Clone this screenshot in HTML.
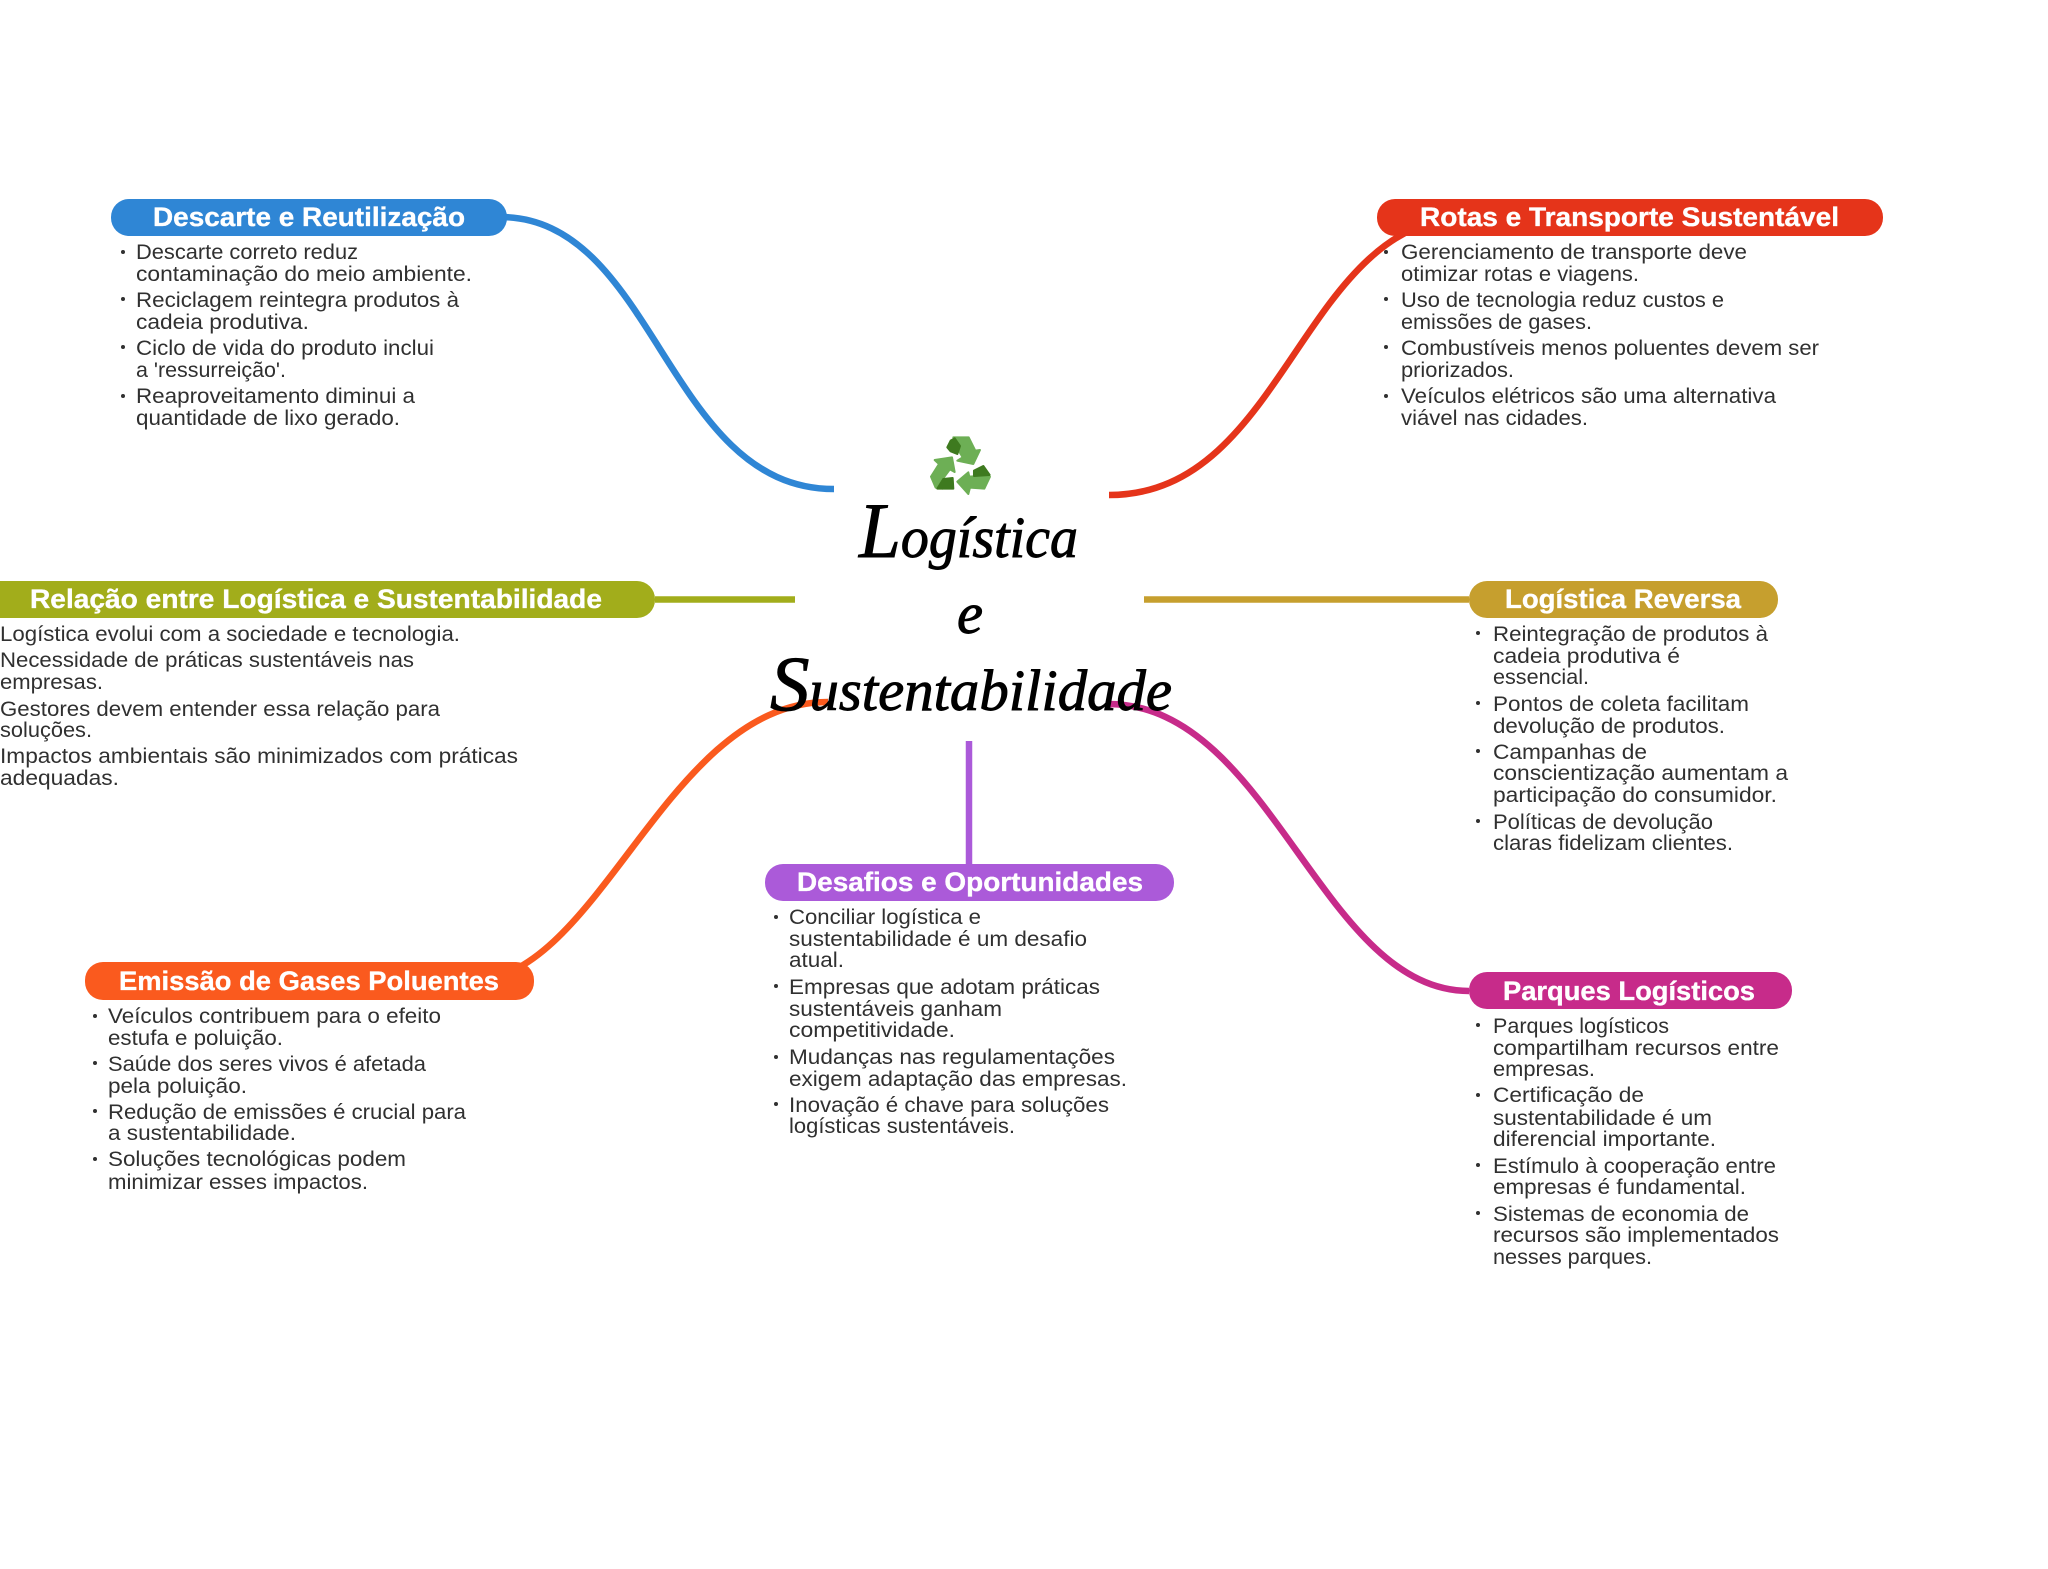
<!DOCTYPE html>
<html lang="pt">
<head>
<meta charset="utf-8">
<title>Logística e Sustentabilidade</title>
<style>
html,body{margin:0;padding:0;background:#fff;width:2048px;height:1569px;overflow:hidden}
svg{display:block}
.t{font:21px "Liberation Sans",sans-serif;fill:#303030}
.h{font:bold 27px "Liberation Sans",sans-serif;fill:#fff;stroke:#fff;stroke-width:.35}
.s{font:italic 58px "Liberation Serif",serif;fill:#000;stroke:#000;stroke-width:.9}
.s tspan{font-size:78px}
path.c{fill:none;stroke-width:6.5}
</style>
</head>
<body>
<svg xmlns="http://www.w3.org/2000/svg" width="2048" height="1569" viewBox="0 0 2048 1569">
<rect width="2048" height="1569" fill="#fff"/>

<!-- connectors -->
<path class="c" stroke="#2F86D5" d="M500 217C656 217 666 489 834 489"/>
<path class="c" stroke="#E5341A" d="M1109 495C1287 495 1301 217 1470 217"/>
<path class="c" stroke="#A2AD1B" d="M655 599.5H795"/>
<path class="c" stroke="#C69F2E" d="M1144 599.5H1469"/>
<path class="c" stroke="#FA5A1E" d="M828 702C666 702 600 981 470 981"/>
<path class="c" stroke="#C72B8A" d="M1108 704C1271 704 1321 991 1469 991"/>
<path class="c" stroke="#AB5AD9" d="M969 741V864"/>

<!-- pills -->
<rect x="111" y="199" width="396" height="37" rx="18" fill="#2F86D5"/>
<rect x="1377" y="199" width="506" height="37" rx="18" fill="#E5341A"/>
<rect x="-30" y="581" width="685" height="37" rx="18" fill="#A2AD1B"/>
<rect x="1469" y="581" width="309" height="37" rx="18" fill="#C69F2E"/>
<rect x="765" y="864" width="409" height="37" rx="18" fill="#AB5AD9"/>
<rect x="85" y="962" width="449" height="38" rx="18" fill="#FA5A1E"/>
<rect x="1469" y="972" width="323" height="37" rx="18" fill="#C72B8A"/>

<text class="h" x="153" y="226" textLength="312" lengthAdjust="spacingAndGlyphs">Descarte e Reutilização</text>
<text class="h" x="1420" y="226" textLength="419" lengthAdjust="spacingAndGlyphs">Rotas e Transporte Sustentável</text>
<text class="h" x="30" y="608" textLength="572" lengthAdjust="spacingAndGlyphs">Relação entre Logística e Sustentabilidade</text>
<text class="h" x="1505" y="608" textLength="236" lengthAdjust="spacingAndGlyphs">Logística Reversa</text>
<text class="h" x="797" y="891" textLength="346" lengthAdjust="spacingAndGlyphs">Desafios e Oportunidades</text>
<text class="h" x="119" y="990" textLength="380" lengthAdjust="spacingAndGlyphs">Emissão de Gases Poluentes</text>
<text class="h" x="1503" y="1000" textLength="252" lengthAdjust="spacingAndGlyphs">Parques Logísticos</text>

<!-- recycle icon -->
<g transform="translate(760 420) scale(.3333)" stroke-width="6" stroke-linejoin="round">
<polygon fill="#6DAF55" stroke="#6DAF55" points="580,52 626,52 646,92 660,90 640,132 592,122 608,112 588,78"/>
<polygon fill="#3E7A1F" stroke="#3E7A1F" points="572,62 584,55 600,78 592,102 572,94 562,82"/>
<polygon fill="#6DAF55" stroke="#6DAF55" points="524,120 576,112 584,156 570,148 552,172 548,206 527,203 513,170 537,132"/>
<polygon fill="#3E7A1F" stroke="#3E7A1F" points="550,177 578,174 580,206 532,206"/>
<polygon fill="#6DAF55" stroke="#6DAF55" points="592,185 625,157 628,170 680,167 690,170 673,206 630,203 625,222"/>
<polygon fill="#3E7A1F" stroke="#3E7A1F" points="642,152 670,138 689,165 642,168"/>
</g>

<!-- title -->
<text class="s" x="859" y="557" textLength="219" lengthAdjust="spacingAndGlyphs"><tspan>L</tspan>ogística</text>
<text class="s" x="957" y="633" textLength="26" lengthAdjust="spacingAndGlyphs">e</text>
<text class="s" x="770" y="710" textLength="402" lengthAdjust="spacingAndGlyphs"><tspan>S</tspan>ustentabilidade</text>

<!-- bullets -->
<g fill="#303030">
<circle cx="123" cy="252" r="2"/><circle cx="123" cy="299" r="2"/><circle cx="123" cy="347" r="2"/><circle cx="123" cy="396" r="2"/>
<circle cx="1386" cy="252" r="2"/><circle cx="1386" cy="299" r="2"/><circle cx="1386" cy="347" r="2"/><circle cx="1386" cy="396" r="2"/>
<circle cx="1478" cy="633" r="2"/><circle cx="1478" cy="703" r="2"/><circle cx="1478" cy="751" r="2"/><circle cx="1478" cy="821" r="2"/>
<circle cx="776" cy="917" r="2"/><circle cx="776" cy="986" r="2"/><circle cx="776" cy="1057" r="2"/><circle cx="776" cy="1104" r="2"/>
<circle cx="95" cy="1016" r="2"/><circle cx="95" cy="1063" r="2"/><circle cx="95" cy="1111" r="2"/><circle cx="95" cy="1159" r="2"/>
<circle cx="1478" cy="1025" r="2"/><circle cx="1478" cy="1095" r="2"/><circle cx="1478" cy="1165" r="2"/><circle cx="1478" cy="1213" r="2"/>
</g>

<!-- Descarte -->
<text class="t" x="136" y="259" textLength="222" lengthAdjust="spacingAndGlyphs">Descarte correto reduz</text>
<text class="t" x="136" y="281" textLength="336" lengthAdjust="spacingAndGlyphs">contaminação do meio ambiente.</text>
<text class="t" x="136" y="307" textLength="323" lengthAdjust="spacingAndGlyphs">Reciclagem reintegra produtos à</text>
<text class="t" x="136" y="329" textLength="173" lengthAdjust="spacingAndGlyphs">cadeia produtiva.</text>
<text class="t" x="136" y="355" textLength="298" lengthAdjust="spacingAndGlyphs">Ciclo de vida do produto inclui</text>
<text class="t" x="136" y="377" textLength="150" lengthAdjust="spacingAndGlyphs">a 'ressurreição'.</text>
<text class="t" x="136" y="403" textLength="279" lengthAdjust="spacingAndGlyphs">Reaproveitamento diminui a</text>
<text class="t" x="136" y="425" textLength="264" lengthAdjust="spacingAndGlyphs">quantidade de lixo gerado.</text>

<!-- Rotas -->
<text class="t" x="1401" y="259" textLength="346" lengthAdjust="spacingAndGlyphs">Gerenciamento de transporte deve</text>
<text class="t" x="1401" y="281" textLength="238" lengthAdjust="spacingAndGlyphs">otimizar rotas e viagens.</text>
<text class="t" x="1401" y="307" textLength="323" lengthAdjust="spacingAndGlyphs">Uso de tecnologia reduz custos e</text>
<text class="t" x="1401" y="329" textLength="191" lengthAdjust="spacingAndGlyphs">emissões de gases.</text>
<text class="t" x="1401" y="355" textLength="418" lengthAdjust="spacingAndGlyphs">Combustíveis menos poluentes devem ser</text>
<text class="t" x="1401" y="377" textLength="113" lengthAdjust="spacingAndGlyphs">priorizados.</text>
<text class="t" x="1401" y="403" textLength="375" lengthAdjust="spacingAndGlyphs">Veículos elétricos são uma alternativa</text>
<text class="t" x="1401" y="425" textLength="187" lengthAdjust="spacingAndGlyphs">viável nas cidades.</text>

<!-- Relação -->
<text class="t" x="0" y="641" textLength="460" lengthAdjust="spacingAndGlyphs">Logística evolui com a sociedade e tecnologia.</text>
<text class="t" x="0" y="667" textLength="414" lengthAdjust="spacingAndGlyphs">Necessidade de práticas sustentáveis nas</text>
<text class="t" x="0" y="689" textLength="103" lengthAdjust="spacingAndGlyphs">empresas.</text>
<text class="t" x="0" y="716" textLength="440" lengthAdjust="spacingAndGlyphs">Gestores devem entender essa relação para</text>
<text class="t" x="0" y="737" textLength="92" lengthAdjust="spacingAndGlyphs">soluções.</text>
<text class="t" x="0" y="763" textLength="518" lengthAdjust="spacingAndGlyphs">Impactos ambientais são minimizados com práticas</text>
<text class="t" x="0" y="785" textLength="119" lengthAdjust="spacingAndGlyphs">adequadas.</text>

<!-- Reversa -->
<text class="t" x="1493" y="641" textLength="275" lengthAdjust="spacingAndGlyphs">Reintegração de produtos à</text>
<text class="t" x="1493" y="663" textLength="187" lengthAdjust="spacingAndGlyphs">cadeia produtiva é</text>
<text class="t" x="1493" y="684" textLength="96" lengthAdjust="spacingAndGlyphs">essencial.</text>
<text class="t" x="1493" y="711" textLength="256" lengthAdjust="spacingAndGlyphs">Pontos de coleta facilitam</text>
<text class="t" x="1493" y="733" textLength="232" lengthAdjust="spacingAndGlyphs">devolução de produtos.</text>
<text class="t" x="1493" y="759" textLength="154" lengthAdjust="spacingAndGlyphs">Campanhas de</text>
<text class="t" x="1493" y="780" textLength="295" lengthAdjust="spacingAndGlyphs">conscientização aumentam a</text>
<text class="t" x="1493" y="802" textLength="284" lengthAdjust="spacingAndGlyphs">participação do consumidor.</text>
<text class="t" x="1493" y="829" textLength="220" lengthAdjust="spacingAndGlyphs">Políticas de devolução</text>
<text class="t" x="1493" y="850" textLength="240" lengthAdjust="spacingAndGlyphs">claras fidelizam clientes.</text>

<!-- Desafios -->
<text class="t" x="789" y="924" textLength="192" lengthAdjust="spacingAndGlyphs">Conciliar logística e</text>
<text class="t" x="789" y="946" textLength="298" lengthAdjust="spacingAndGlyphs">sustentabilidade é um desafio</text>
<text class="t" x="789" y="967" textLength="55" lengthAdjust="spacingAndGlyphs">atual.</text>
<text class="t" x="789" y="994" textLength="311" lengthAdjust="spacingAndGlyphs">Empresas que adotam práticas</text>
<text class="t" x="789" y="1016" textLength="213" lengthAdjust="spacingAndGlyphs">sustentáveis ganham</text>
<text class="t" x="789" y="1037" textLength="166" lengthAdjust="spacingAndGlyphs">competitividade.</text>
<text class="t" x="789" y="1064" textLength="326" lengthAdjust="spacingAndGlyphs">Mudanças nas regulamentações</text>
<text class="t" x="789" y="1086" textLength="338" lengthAdjust="spacingAndGlyphs">exigem adaptação das empresas.</text>
<text class="t" x="789" y="1112" textLength="320" lengthAdjust="spacingAndGlyphs">Inovação é chave para soluções</text>
<text class="t" x="789" y="1133" textLength="226" lengthAdjust="spacingAndGlyphs">logísticas sustentáveis.</text>

<!-- Emissão -->
<text class="t" x="108" y="1023" textLength="333" lengthAdjust="spacingAndGlyphs">Veículos contribuem para o efeito</text>
<text class="t" x="108" y="1045" textLength="175" lengthAdjust="spacingAndGlyphs">estufa e poluição.</text>
<text class="t" x="108" y="1071" textLength="318" lengthAdjust="spacingAndGlyphs">Saúde dos seres vivos é afetada</text>
<text class="t" x="108" y="1093" textLength="139" lengthAdjust="spacingAndGlyphs">pela poluição.</text>
<text class="t" x="108" y="1119" textLength="358" lengthAdjust="spacingAndGlyphs">Redução de emissões é crucial para</text>
<text class="t" x="108" y="1140" textLength="188" lengthAdjust="spacingAndGlyphs">a sustentabilidade.</text>
<text class="t" x="108" y="1166" textLength="298" lengthAdjust="spacingAndGlyphs">Soluções tecnológicas podem</text>
<text class="t" x="108" y="1189" textLength="260" lengthAdjust="spacingAndGlyphs">minimizar esses impactos.</text>

<!-- Parques -->
<text class="t" x="1493" y="1033" textLength="176" lengthAdjust="spacingAndGlyphs">Parques logísticos</text>
<text class="t" x="1493" y="1055" textLength="286" lengthAdjust="spacingAndGlyphs">compartilham recursos entre</text>
<text class="t" x="1493" y="1076" textLength="102" lengthAdjust="spacingAndGlyphs">empresas.</text>
<text class="t" x="1493" y="1102" textLength="151" lengthAdjust="spacingAndGlyphs">Certificação de</text>
<text class="t" x="1493" y="1125" textLength="219" lengthAdjust="spacingAndGlyphs">sustentabilidade é um</text>
<text class="t" x="1493" y="1146" textLength="223" lengthAdjust="spacingAndGlyphs">diferencial importante.</text>
<text class="t" x="1493" y="1173" textLength="283" lengthAdjust="spacingAndGlyphs">Estímulo à cooperação entre</text>
<text class="t" x="1493" y="1194" textLength="253" lengthAdjust="spacingAndGlyphs">empresas é fundamental.</text>
<text class="t" x="1493" y="1221" textLength="256" lengthAdjust="spacingAndGlyphs">Sistemas de economia de</text>
<text class="t" x="1493" y="1242" textLength="286" lengthAdjust="spacingAndGlyphs">recursos são implementados</text>
<text class="t" x="1493" y="1264" textLength="159" lengthAdjust="spacingAndGlyphs">nesses parques.</text>
</svg>
</body>
</html>
